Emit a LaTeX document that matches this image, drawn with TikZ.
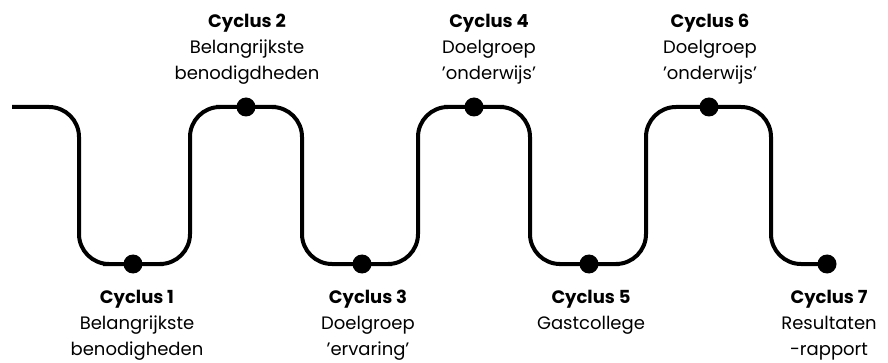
\documentclass[tikz,border=0pt]{standalone}
\usepackage{fontspec}
\setmainfont{Poppins}
\usepackage{tikz}

\begin{document}
\begin{tikzpicture}[x=1pt,y=-1pt,
    wave/.style={line width=4pt,rounded corners=30pt},
    milestone/.style={circle,fill=black,inner sep=0pt,minimum size=19pt},
    cyclabel/.style={align=center,inner sep=0pt,anchor=north,font=\fontsize{18}{26}\selectfont}]
    \useasboundingbox (0,0) rectangle (888,363);
    % Milestones on the wave
    \coordinate (start) at (12,107);
    \node[milestone] (c1) at (133,264) {};
    \node[milestone] (c2) at (246,107) {};
    \node[milestone] (c3) at (362,264) {};
    \node[milestone] (c4) at (474,107) {};
    \node[milestone] (c5) at (589,264) {};
    \node[milestone] (c6) at (709,107) {};
    \node[milestone] (c7) at (827,264) {};
    % Draw wave
    \draw[wave] (start) -| (79,264) -- (c1.center) -| (190,107) -- (c2.center)
        -| (302,264) -- (c3.center) -| (418,107) -- (c4.center)
        -| (530,264) -- (c5.center) -| (646,107) -- (c6.center)
        -| (771,264) -- (c7.center);

    % Label cycles
    \node[cyclabel] (l1) at (137,290) {\textbf{Cyclus 1}\\Belangrijkste\\benodigheden};
    \node[cyclabel] (l2) at (247,14) {\textbf{Cyclus 2}\\Belangrijkste\\benodigdheden};
    \node[cyclabel] (l3) at (368,290) {\textbf{Cyclus 3}\\Doelgroep\\’ervaring’};
    \node[cyclabel] (l4) at (489,14) {\textbf{Cyclus 4}\\Doelgroep\\’onderwijs’};
    \node[cyclabel] (l5) at (591,290) {\textbf{Cyclus 5}\\Gastcollege};
    \node[cyclabel] (l6) at (710,14) {\textbf{Cyclus 6}\\Doelgroep\\’onderwijs’};
    \node[cyclabel] (l7) at (829,290) {\textbf{Cyclus 7}\\Resultaten\\-rapport};
\end{tikzpicture}
\end{document}
